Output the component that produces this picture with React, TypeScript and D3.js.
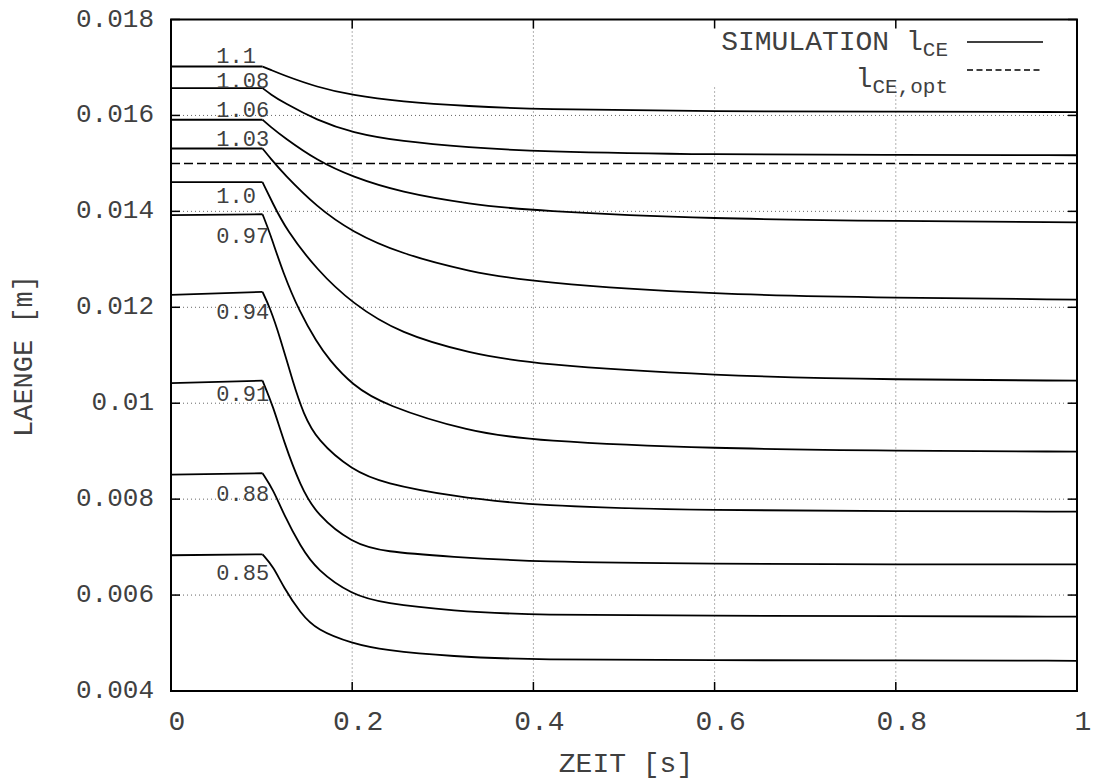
import React from 'react';
import * as d3 from 'd3';

// ---------- data ----------
const xTicks = [0, 0.2, 0.4, 0.6, 0.8, 1];
const xTickLabels = ['0', '0.2', '0.4', '0.6', '0.8', '1'];
const yTicks = [0.004, 0.006, 0.008, 0.01, 0.012, 0.014, 0.016, 0.018];
const yTickLabels = ['0.004', '0.006', '0.008', '0.01', '0.012', '0.014', '0.016', '0.018'];

const curveNames = ['1.1', '1.08', '1.06', '1.03', '1.0', '0.97', '0.94', '0.91', '0.88', '0.85'];
// label anchor (data coords) for each curve name
const labelT = 0.05;
const labelValues = [0.01722, 0.0167, 0.0161, 0.0155, 0.0143, 0.01348, 0.01189, 0.01018, 0.0081, 0.00645];

// plateau part (before stimulation change) and decay part of each simulated l_CE curve
const plateau110 = [[0, 0.01702], [0.101, 0.01702]];
const decay110 = [[0.101, 0.01702], [0.11, 0.01695], [0.124, 0.01684], [0.161, 0.01659], [0.2, 0.01642], [0.253, 0.01629], [0.33, 0.01619], [0.4, 0.01613], [0.6, 0.01608], [0.8, 0.01608], [1, 0.01607]];

const plateau108 = [[0, 0.01657], [0.101, 0.01657]];
const decay108 = [[0.101, 0.01657], [0.11, 0.01644], [0.124, 0.01627], [0.161, 0.0159], [0.2, 0.01564], [0.253, 0.01546], [0.33, 0.01533], [0.4, 0.01525], [0.6, 0.01518], [0.8, 0.01518], [1, 0.01517]];

const plateau106 = [[0, 0.01591], [0.101, 0.01591]];
const decay106 = [[0.101, 0.01591], [0.11, 0.01576], [0.124, 0.01555], [0.161, 0.01506], [0.2, 0.01472], [0.253, 0.0144], [0.33, 0.01415], [0.4, 0.01401], [0.6, 0.01384], [0.8, 0.0138], [1, 0.01377]];

const plateau103 = [[0, 0.01531], [0.101, 0.01531]];
const decay103 = [[0.101, 0.01531], [0.11, 0.0151], [0.124, 0.01479], [0.161, 0.01409], [0.2, 0.01357], [0.253, 0.01312], [0.33, 0.01274], [0.4, 0.01252], [0.6, 0.01226], [0.8, 0.0122], [1, 0.01216]];

const plateau100 = [[0, 0.01461], [0.101, 0.01461]];
const decay100 = [[0.101, 0.01461], [0.112, 0.01418], [0.127, 0.01362], [0.161, 0.01278], [0.2, 0.01208], [0.253, 0.01145], [0.33, 0.01104], [0.4, 0.01081], [0.6, 0.01057], [0.8, 0.01049], [1, 0.01047]];

const plateau097 = [[0, 0.01392], [0.101, 0.01394]];
const decay097 = [[0.101, 0.01394], [0.109, 0.01356], [0.124, 0.0127], [0.142, 0.0119], [0.161, 0.01127], [0.174, 0.01092], [0.2, 0.01038], [0.235, 0.00996], [0.33, 0.0094], [0.4, 0.00922], [0.6, 0.00905], [0.8, 0.00901], [1, 0.00899]];

const plateau094 = [[0, 0.01226], [0.101, 0.01232]];
const decay094 = [[0.101, 0.01232], [0.109, 0.012], [0.12, 0.0114], [0.135, 0.01041], [0.146, 0.00979], [0.161, 0.00923], [0.2, 0.0086], [0.235, 0.00833], [0.31, 0.00806], [0.4, 0.00786], [0.6, 0.00776], [0.8, 0.00775], [1, 0.00774]];

const plateau091 = [[0, 0.01042], [0.101, 0.01047]];
const decay091 = [[0.101, 0.01047], [0.113, 0.00992], [0.124, 0.00923], [0.143, 0.00826], [0.161, 0.00767], [0.2, 0.00708], [0.235, 0.0069], [0.31, 0.0068], [0.4, 0.00669], [0.6, 0.00665], [0.8, 0.00664], [1, 0.00664]];

const plateau088 = [[0, 0.00851], [0.101, 0.00854]];
const decay088 = [[0.101, 0.00854], [0.113, 0.00819], [0.124, 0.0077], [0.143, 0.00701], [0.161, 0.00652], [0.2, 0.006], [0.235, 0.00583], [0.31, 0.00567], [0.4, 0.00558], [0.6, 0.00557], [0.8, 0.00556], [1, 0.00555]];

const plateau085 = [[0, 0.00683], [0.101, 0.00685]];
const decay085 = [[0.101, 0.00685], [0.113, 0.00659], [0.124, 0.00617], [0.143, 0.00562], [0.161, 0.00527], [0.2, 0.00499], [0.235, 0.00485], [0.31, 0.00472], [0.4, 0.00465], [0.6, 0.00464], [0.8, 0.00464], [1, 0.00463]];

const plateaus = [plateau110, plateau108, plateau106, plateau103, plateau100, plateau097, plateau094, plateau091, plateau088, plateau085];
const decays = [decay110, decay108, decay106, decay103, decay100, decay097, decay094, decay091, decay088, decay085];

const optimumLength = 0.015;

// ---------- layout ----------
const W = 1093;
const H = 780;
const left = 171;
const right = 1077;
const top = 19.5;
const bottom = 691;
const FONT = "'Liberation Mono', 'Courier New', 'DejaVu Sans Mono', monospace";
const TXT = '#404040';

export default function App() {
  const x = d3.scaleLinear().domain([0, 1]).range([left, right]);
  const y = d3.scaleLinear().domain([0.004, 0.018]).range([bottom, top]);

  const lineLin = d3.line<number[]>().x(d => x(d[0])).y(d => y(d[1]));
  const lineSmooth = d3.line<number[]>().x(d => x(d[0])).y(d => y(d[1])).curve(d3.curveBasis);

  const tickLen = 9;

  return (
    <svg width={W} height={H} style={{ position: 'absolute', left: 0, top: 0, background: '#fff' }}>
      <rect x={0} y={0} width={W} height={H} fill="#fff" />
      {/* grid */}
      <g stroke="#666" strokeWidth={1} strokeDasharray="1,3">
        {xTicks.slice(1, -1).map(t => (
          <line key={'gx' + t} x1={x(t)} x2={x(t)} y1={top} y2={bottom} />
        ))}
        {yTicks.slice(1, -1).map(v => (
          <line key={'gy' + v} x1={left} x2={right} y1={y(v)} y2={y(v)} />
        ))}
      </g>
      {/* opaque key background */}
      <rect x={704} y={22} width={348} height={64} fill="#fff" />

      {/* l_CE,opt */}
      <path d={lineLin([[0, optimumLength], [1, optimumLength]]) || ''} fill="none" stroke="#000" strokeWidth={1.5} strokeDasharray="9,4" />

      {/* simulated curves */}
      <g fill="none" stroke="#000" strokeWidth={1.8} strokeLinejoin="round">
        {plateaus.map((p, i) => (
          <path key={'p' + i} d={lineLin(p) || ''} />
        ))}
        {decays.map((dd, i) => (
          <path key={'d' + i} d={lineSmooth(dd) || ''} />
        ))}
      </g>

      {/* border */}
      <rect x={left} y={top} width={right - left} height={bottom - top} fill="none" stroke="#000" strokeWidth={2} />
      {/* ticks */}
      <g stroke="#000" strokeWidth={1.5}>
        {xTicks.map(t => (
          <g key={'tx' + t}>
            <line x1={x(t)} x2={x(t)} y1={bottom} y2={bottom - tickLen} />
            <line x1={x(t)} x2={x(t)} y1={top} y2={top + tickLen} />
          </g>
        ))}
        {yTicks.map(v => (
          <g key={'ty' + v}>
            <line x1={left} x2={left + tickLen} y1={y(v)} y2={y(v)} />
            <line x1={right} x2={right - tickLen} y1={y(v)} y2={y(v)} />
          </g>
        ))}
      </g>

      {/* tick labels */}
      <g fontFamily={FONT} fill={TXT}>
        {yTicks.map((v, i) => (
          <text key={'ly' + v} x={154} y={y(v) + 7} fontSize={26} textAnchor="end">{yTickLabels[i]}</text>
        ))}
        {xTicks.map((t, i) => (
          <text key={'lx' + t} x={x(t) + 6} y={730} fontSize={28} textAnchor="middle">{xTickLabels[i]}</text>
        ))}
        <text x={626} y={772} fontSize={28} textAnchor="middle">ZEIT [s]</text>
        <text transform="translate(32,356) rotate(-90)" fontSize={27} textAnchor="middle">LAENGE [m]</text>

        {/* curve labels */}
        {curveNames.map((n, i) => (
          <text key={'cl' + n} x={x(labelT)} y={y(labelValues[i]) + 6.5} fontSize={22}>{n}</text>
        ))}

        {/* legend */}
        <text x={948} y={50} fontSize={28} textAnchor="end">
          <tspan>SIMULATION l</tspan>
          <tspan fontSize={21} dy={6}>CE</tspan>
        </text>
        <text x={948} y={87} fontSize={28} textAnchor="end">
          <tspan>l</tspan>
          <tspan fontSize={21} dy={6}>CE,opt</tspan>
        </text>
      </g>
      <line x1={967} x2={1043} y1={42} y2={42} stroke="#000" strokeWidth={1.5} />
      <line x1={967} x2={1043} y1={70} y2={70} stroke="#000" strokeWidth={1.5} strokeDasharray="6,3.5" />
    </svg>
  );
}
